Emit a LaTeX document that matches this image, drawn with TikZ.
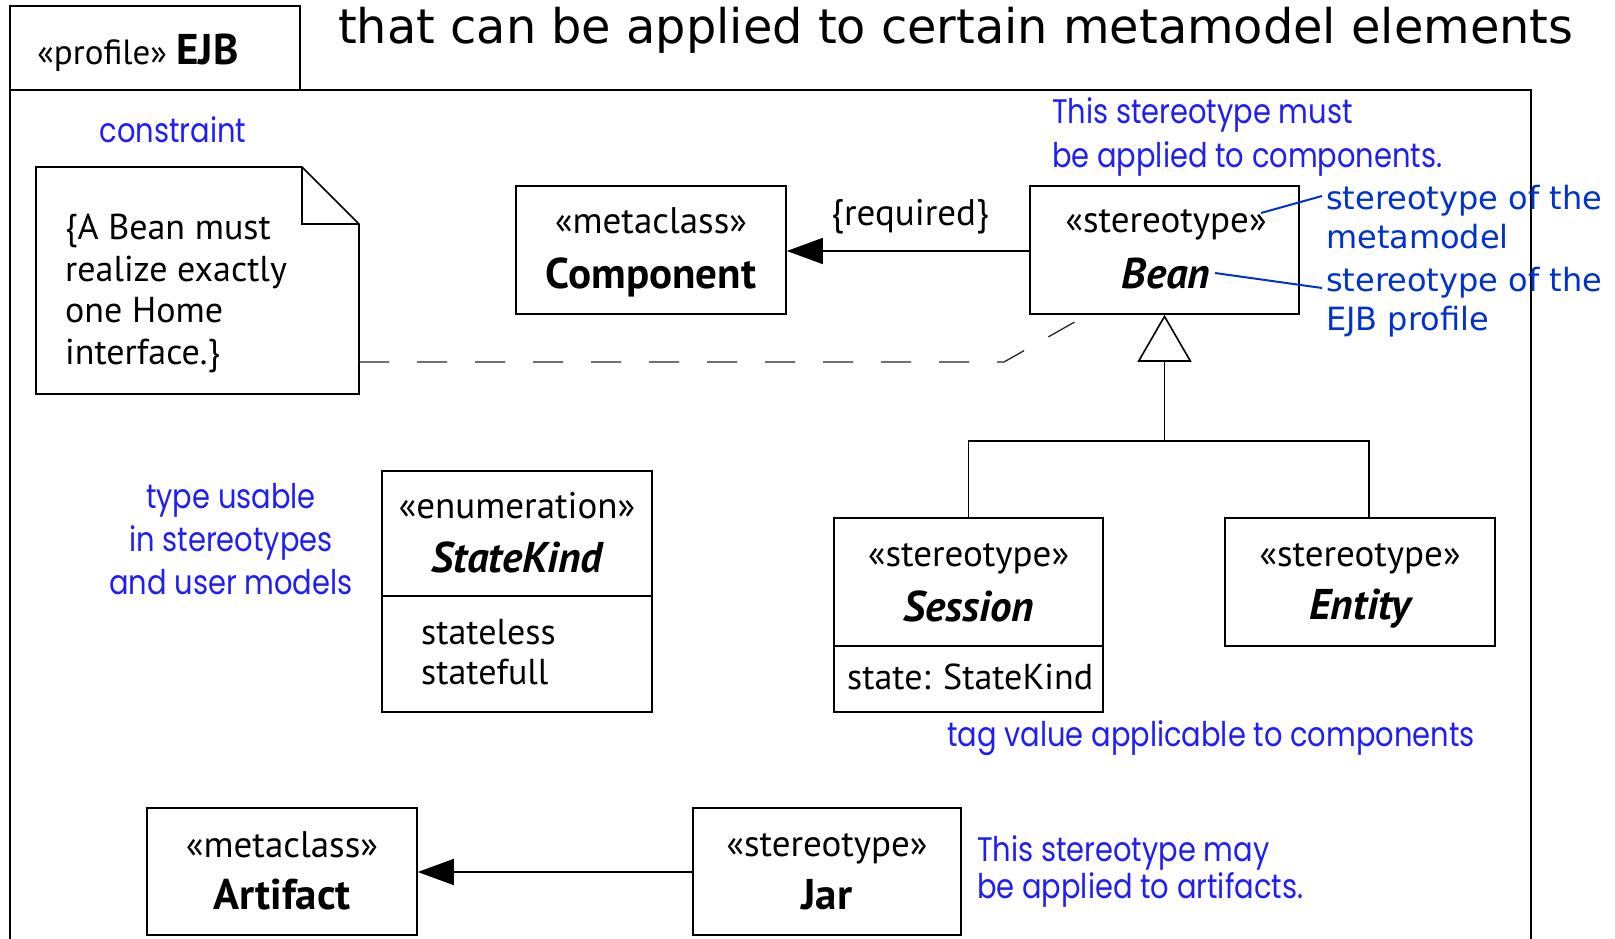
\documentclass[tikz,border=0pt]{standalone}
\usepackage{fontspec}
\usetikzlibrary{arrows.meta}
\setmainfont{PT Sans}
\newfontfamily\annfont[FakeStretch=0.85]{Poppins}
\newfontfamily\verd{DejaVu Sans}
\definecolor{annblue}{RGB}{30,30,245}
\definecolor{darkblue}{RGB}{0,51,204}
\begin{document}
\begin{tikzpicture}[x=1pt,y=-1pt,
  box/.style={draw, line width=1.6pt, rectangle, inner sep=0pt},
  stereo/.style={inner sep=0pt, font=\fontsize{37}{42}\selectfont},
  cname/.style={inner sep=0pt, font=\fontsize{43}{48}\selectfont\bfseries},
  iname/.style={inner sep=0pt, font=\fontsize{43}{48}\selectfont\bfseries\itshape},
  attr/.style={inner sep=0pt, font=\fontsize{36}{40}\selectfont, align=left},
  ann/.style={inner sep=0pt, text=annblue, font=\annfont\fontsize{34}{43}\selectfont},
  vann/.style={inner sep=0pt, text=darkblue, font=\verd\fontsize{32}{39}\selectfont, align=left},
  filled/.style={line width=1.6pt, -{Triangle[length=36pt,width=26pt]}},
]
\useasboundingbox (0,0) rectangle (1615,939);
\fill[white] (0,0) rectangle (1615,939);
% frame
\draw[line width=1.6pt] (10,939) -- (10,90) -- (1531,90) -- (1531,939);
\node[box, minimum width=290, minimum height=84] (tab) at (155,48) {};
\node[inner sep=0pt, anchor=west] (tabtext) at (37,53) {\fontsize{35}{40}\selectfont «profile» {\fontsize{43}{46}\selectfont\bfseries EJB}};
\node[inner sep=0pt, anchor=west] (title) at (338,30) {\verd\fontsize{47.8}{54}\selectfont that can be applied to certain metamodel elements};

% constraint note
\node[ann] (constraintlbl) at (173,130) {constraint};
\draw[line width=1.6pt] (36,394) -- (36,167) -- (302,167) -- (359,224) -- (359,394) -- cycle;
\draw[line width=1.6pt] (302,167) -- (302,224) -- (359,224);
\node[attr, anchor=north west, font=\fontsize{36}{41.5}\selectfont] (notetext) at (65,214) {\{A Bean must\\realize exactly\\one Home\\interface.\}};
\coordinate (noteanchor) at (359,362);

% Component
\node[box, minimum width=270, minimum height=128] (component) at (651,250) {};
\node[stereo] (compst) at (651,221) {«metaclass»};
\node[cname] (compname) at (651,277) {Component};

% Bean
\node[box, minimum width=269, minimum height=128] (bean) at (1164.5,250) {};
\node[stereo] (beanst) at (1166,225) {«stereotype»};
\node[iname] (beanname) at (1166,274) {Bean};
\node[ann, anchor=west, align=left, font=\annfont\fontsize{34}{44}\selectfont] (beanann) at (1052,137) {This stereotype must\\be applied to components.};

\draw[filled] (bean.west |- 0,251) -- (component.east |- 0,251);
\node[inner sep=0pt, font=\fontsize{37}{42}\selectfont] (req) at (910,217) {\{required\}};

% dashed constraint link
\coordinate (dbend) at (1004,362);
\coordinate (dend) at (1087,315);
\draw[line width=1.3pt, draw=black!85, dash pattern=on 30pt off 28pt] (noteanchor) -- (dbend) -- (dend);

% right annotations
\node[vann, anchor=west] (meta1) at (1326,217) {stereotype of the\\metamodel};
\node[vann, anchor=west] (meta2) at (1326,302) {stereotype of the\\EJB profile};
\coordinate (l1a) at (1261,213);
\coordinate (l1b) at (1322,196);
\coordinate (l2a) at (1215,273);
\coordinate (l2b) at (1322,288);
\draw[darkblue, line width=2pt] (l1a) -- (l1b);
\draw[darkblue, line width=2pt] (l2a) -- (l2b);

% Session
\node[box, minimum width=269, minimum height=194] (session) at (968.5,615) {};
\coordinate (sdl) at (834,646);
\coordinate (sdr) at (1103,646);
\draw[line width=1.6pt] (sdl) -- (sdr);
\node[stereo] (sesst) at (968.5,559) {«stereotype»};
\node[iname] (sesname) at (968.5,606) {Session};
\node[attr, anchor=west] (sesattr) at (847,677) {state: StateKind};

% Entity
\node[box, minimum width=270, minimum height=128] (entity) at (1360,582) {};
\node[stereo] (entst) at (1360,559) {«stereotype»};
\node[iname] (entname) at (1360,609) {Entity};

% generalization tree
\coordinate (gj) at (1164.5,441);
\coordinate (sj) at (968.5,441);
\coordinate (ej) at (1369,441);
\draw[line width=1.6pt] (session.north) -- (sj) -- (ej) -- (ej |- entity.north);
\draw[line width=1.6pt, -{Triangle[open,length=47pt,width=54pt]}] (gj) -- (bean.south);
\node[ann, anchor=center] (tagann) at (1211,738) {tag value applicable to components};

% StateKind
\node[box, minimum width=270, minimum height=241] (statekind) at (517,591.5) {};
\coordinate (kdl) at (382,596);
\coordinate (kdr) at (652,596);
\draw[line width=1.6pt] (kdl) -- (kdr);
\node[stereo] (kst) at (517,506) {«enumeration»};
\node[iname] (kname) at (517,557) {StateKind};
\node[attr, anchor=north west] (klits) at (421,619) {stateless\\statefull};
\node[ann, align=center] (typeann) at (231,539) {type usable\\in stereotypes\\and user models};

% Artifact / Jar
\node[box, minimum width=270, minimum height=127] (artifact) at (282,871.5) {};
\node[stereo] (artst) at (282,845) {«metaclass»};
\node[cname] (artname) at (282,895) {Artifact};
\node[box, minimum width=268, minimum height=127] (jar) at (827,871.5) {};
\node[stereo] (jarst) at (827,849) {«stereotype»};
\node[cname] (jarname) at (827,895) {Jar};
\draw[filled] (jar.west |- 0,872) -- (artifact.east |- 0,872);
\node[ann, anchor=west, align=left, font=\annfont\fontsize{34}{37}\selectfont] (jarann) at (977,871) {This stereotype may\\be applied to artifacts.};
\end{tikzpicture}
\end{document}
